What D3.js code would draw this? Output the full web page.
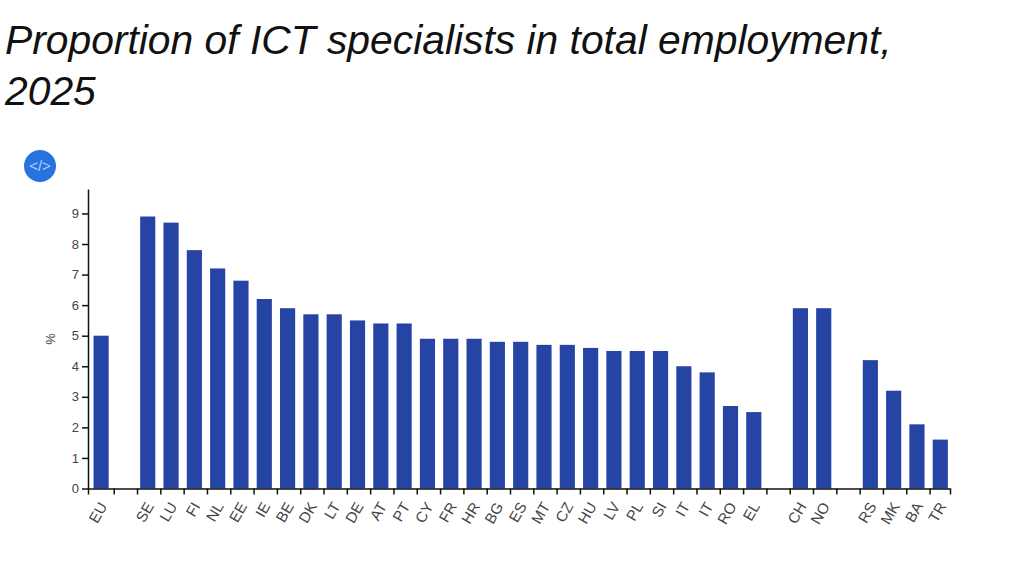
<!DOCTYPE html>
<html>
<head>
<meta charset="utf-8">
<script src="https://cdn.jsdelivr.net/npm/d3@7/dist/d3.min.js"></script>
<style>
  body { margin: 0; background: #fff; }
  text { font-family: "Liberation Sans", Arial, sans-serif; }
</style>
</head>
<body>
<div id="chart"></div>
<script>
// empty names are the gaps between country groups
const categories = ["EU", "", "SE", "LU", "FI", "NL", "EE", "IE", "BE", "DK", "LT", "DE", "AT", "PT", "CY", "FR", "HR", "BG", "ES", "MT", "CZ", "HU", "LV", "PL", "SI", "IT", "IT", "RO", "EL", "", "CH", "NO", "", "RS", "MK", "BA", "TR"];
const values = [5.0, null, 8.9, 8.7, 7.8, 7.2, 6.8, 6.2, 5.9, 5.7, 5.7, 5.5, 5.4, 5.4, 4.9, 4.9, 4.9, 4.8, 4.8, 4.7, 4.7, 4.6, 4.5, 4.5, 4.5, 4.0, 3.8, 2.7, 2.5, null, 5.9, 5.9, null, 4.2, 3.2, 2.1, 1.6];
const yTicks = [0, 1, 2, 3, 4, 5, 6, 7, 8, 9];
const titleLines = ["Proportion of ICT specialists in total employment,", "2025"];

const svgWidth = 1024;
const svgHeight = 576;
const margin = { top: 189, right: 74, bottom: 87.5, left: 88 };

const width = svgWidth - margin.left - margin.right;
const height = svgHeight - margin.top - margin.bottom;

const svg = d3
  .select("#chart")
  .append("svg")
  .attr("width", svgWidth)
  .attr("height", svgHeight)
  .style("display", "block");

svg
  .selectAll(".title")
  .data(titleLines)
  .enter()
  .append("text")
  .attr("class", "title")
  .attr("x", 5)
  .attr("y", (d, i) => 54 + i * 51)
  .attr("font-size", 40.8)
  .attr("font-style", "italic")
  .attr("fill", "#111")
  .text((d) => d);

// embed button
svg.append("circle").attr("cx", 40).attr("cy", 166).attr("r", 16).attr("fill", "#2a72e0");
svg
  .append("text")
  .attr("x", 40)
  .attr("y", 171)
  .attr("text-anchor", "middle")
  .attr("font-size", 15)
  .attr("fill", "#a9d2ff")
  .text("</>");

const g = svg
  .append("g")
  .attr("transform", `translate(${margin.left},${margin.top})`);

const x = d3
  .scaleBand()
  .domain(d3.range(categories.length))
  .range([0, width])
  .paddingInner(0.35)
  .paddingOuter(0.165)
  .align(0.72);

const y = d3.scaleLinear().domain([0, 9.8]).range([height, 0]);

g.selectAll(".bar")
  .data(values.map((value, i) => ({ i, value })).filter((d) => d.value !== null))
  .enter()
  .append("rect")
  .attr("class", "bar")
  .attr("x", (d) => x(d.i))
  .attr("y", (d) => y(d.value))
  .attr("width", x.bandwidth())
  .attr("height", (d) => height - y(d.value))
  .attr("fill", "#2644a4");

const xAxis = g
  .append("g")
  .attr("class", "x-axis")
  .attr("transform", `translate(0,${height})`)
  .call(d3.axisBottom(x).tickSize(6).tickFormat((i) => categories[i]));

// ticks sit left of the bars, not on their centres
xAxis.selectAll(".tick line").attr("x1", -10.2).attr("x2", -10.2);
xAxis.select(".tick line").remove();

xAxis
  .selectAll(".tick text")
  .attr("text-anchor", "end")
  .attr("font-size", 15)
  .attr("fill", "#444")
  .attr("y", 0)
  .attr("dy", "0.35em")
  .attr("transform", "translate(2,15) rotate(-60)");

const yAxis = g
  .append("g")
  .attr("class", "y-axis")
  .call(d3.axisLeft(y).tickValues(yTicks).tickSize(6).tickSizeOuter(0));

yAxis.selectAll("text").attr("font-size", 13).attr("fill", "#444");

g.selectAll(".domain, .tick line").attr("stroke", "#111").attr("stroke-width", 1.5);

svg
  .append("text")
  .attr("transform", "translate(55,339) rotate(-90)")
  .attr("text-anchor", "middle")
  .attr("font-size", 13)
  .attr("fill", "#444")
  .text("%");
</script>
</body>
</html>
